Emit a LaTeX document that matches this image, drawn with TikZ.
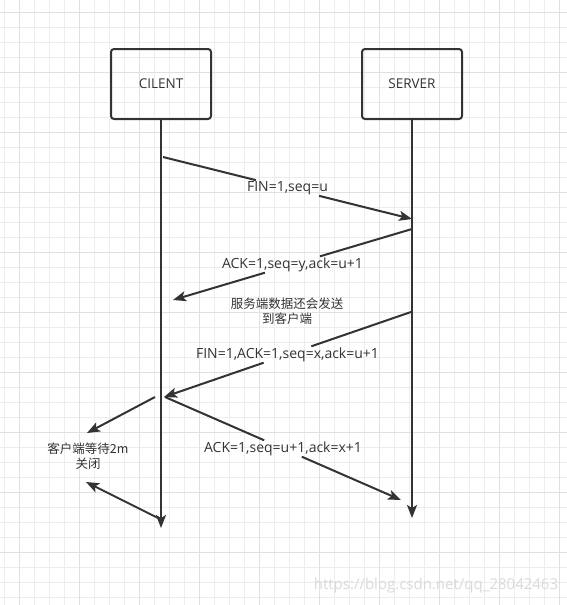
\documentclass[tikz,border=0pt]{standalone}
\usepackage{fontspec}
\setmainfont{Noto Sans CJK SC}
\newfontfamily\latinfont{Open Sans}
\usetikzlibrary{arrows.meta}

\definecolor{ink}{HTML}{333333}
\definecolor{gridminor}{HTML}{EDEDED}
\definecolor{gridmajor}{HTML}{E0E0E0}
\definecolor{mark}{HTML}{DADADA}

\tikzset{
  party/.style={draw=ink,line width=2pt,rounded corners=3pt,
    minimum width=100pt,minimum height=70pt,text=ink,
    font=\latinfont\fontsize{13.5}{16}\selectfont},
  msg/.style={ink,line width=2pt,-{Stealth[length=13pt,width=10pt,inset=3pt]}},
  seg/.style={ink,line width=2pt},
  lbl/.style={text=ink,font=\latinfont\fontsize{14}{16}\selectfont,inner sep=1pt},
  note/.style={text=ink,font=\fontsize{12.5}{15}\selectfont,align=center}
}

\begin{document}
\begin{tikzpicture}[x=1pt,y=-1pt]
\useasboundingbox (0,0) rectangle (567,605);
\fill[white] (0,0) rectangle (567,605);
% grid
\foreach \gx in {4,19,...,567} \draw[gridminor,line width=1pt] (\gx,0) -- (\gx,605);
\foreach \gy in {12,27,...,605} \draw[gridminor,line width=1pt] (0,\gy) -- (567,\gy);
\foreach \gx in {19,79,...,567} \draw[gridmajor,line width=1pt] (\gx,0) -- (\gx,605);
\foreach \gy in {12,72,...,605} \draw[gridmajor,line width=1pt] (0,\gy) -- (567,\gy);

% parties and lifelines
\node[party] (cli) at (161,84) {CILENT};
\node[party] (srv) at (412,84) {SERVER};
\coordinate (cliend) at (161,528);
\coordinate (srvend) at (412,518);
\draw[msg] (cli.south) -- (cliend);
\draw[msg] (srv.south) -- (srvend);

% end points of messages
\coordinate (c1) at (163,157);
\coordinate (s1) at (412,219);
\coordinate (s2) at (412,229);
\coordinate (c2) at (173,300);
\coordinate (s3) at (411,312);
\coordinate (c3) at (164,397);
\coordinate (c4) at (155,397);
\coordinate (w1) at (87,433);
\coordinate (c5) at (158,518);
\coordinate (w2) at (86,482);
\coordinate (c6) at (165,397);
\coordinate (s4) at (401,500);

% FIN from client
\path (c1) -- node[lbl,pos=0.5] (fin1) {FIN=1,seq=u} (s1);
\draw[seg] (c1) -- (fin1);
\draw[msg] (fin1) -- (s1);

% ACK from server
\path (s2) -- node[lbl,pos=0.5] (ack1) {ACK=1,seq=y,ack=u+1} (c2);
\draw[seg] (s2) -- (ack1);
\draw[msg] (ack1) -- (c2);

\node[note] (more) at (287,311) {服务端数据还会发送\\到客户端};

% FIN from server
\path (s3) -- node[lbl,pos=0.5] (fin2) {FIN=1,ACK=1,seq=x,ack=u+1} (c3);
\draw[seg] (s3) -- (fin2);
\draw[msg] (fin2) -- (c3);

% ACK from client
\path (c6) -- node[lbl,pos=0.5] (ack2) {ACK=1,seq=u+1,ack=x+1} (s4);
\draw[seg] (c6) -- (ack2);
\draw[msg] (ack2) -- (s4);

% client wait
\draw[msg] (c4) -- (w1);
\node[note] (wait) at (88,456) {客户端等待2m\\关闭};
\draw[msg] (c5) -- (w2);

\node[text=mark,font=\latinfont\fontsize{15}{18}\selectfont] (wm) at (436,586) {https://blog.csdn.net/qq\_28042463};
\end{tikzpicture}
\end{document}
